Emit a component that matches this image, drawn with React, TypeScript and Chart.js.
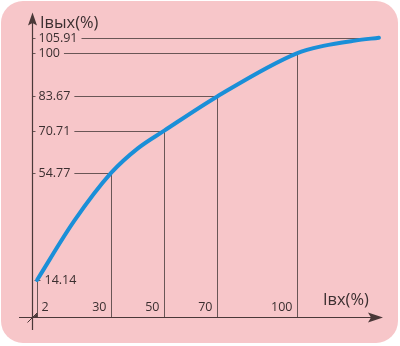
import { useEffect, useRef } from "react";
import { Chart, registerables } from "chart.js";

Chart.register(...registerables);

// Input current (%) and output current (%)
const inputValues = [2, 16, 30, 40, 50, 70, 100, 110, 122, 131];
const outputValues = [14.14, 36.5, 54.77, 64.0, 70.71, 83.67, 100, 102.8, 104.8, 105.91];

// Marked reference points
const xTickValues = [2, 30, 50, 70, 100];
const xTickLabels = ["2", "30", "50", "70", "100"];
const yTickValues = [14.14, 54.77, 70.71, 83.67, 100, 105.91];
const yTickLabels = ["14.14", "54.77", "70.71", "83.67", "100", "105.91"];
const yRefEndX = [2, 30, 50, 70, 100, 131];

const xAxisTitle = "Iвх(%)";
const yAxisTitle = "Iвых(%)";

const BG = "#f7c6c9";
const CURVE = "#1a8fd8";
const GRID = "#6a5656";
const AXIS = "#4a3838";
const TEXT = "#3b2f30";
const FONT = '"Open Sans", "DejaVu Sans", sans-serif';

function drawArrow(ctx: CanvasRenderingContext2D, tx: number, ty: number, dx: number, dy: number, len: number, hw: number, notch: number) {
  const px = -dy, py = dx;
  const bx = tx - dx * len, by = ty - dy * len;
  ctx.beginPath();
  ctx.moveTo(tx, ty);
  ctx.lineTo(bx + px * hw, by + py * hw);
  ctx.lineTo(tx - dx * (len - notch), ty - dy * (len - notch));
  ctx.lineTo(bx - px * hw, by - py * hw);
  ctx.closePath();
  ctx.fill();
}

const refPlugin = {
  id: "refs",
  beforeDraw(chart: any) {
    const ctx = chart.ctx as CanvasRenderingContext2D;
    ctx.save();
    ctx.fillStyle = BG;
    ctx.beginPath();
    (ctx as any).roundRect(1, 1, 397, 342, 22);
    ctx.fill();
    ctx.restore();
  },
  beforeDatasetsDraw(chart: any) {
    const ctx = chart.ctx as CanvasRenderingContext2D;
    const xs = chart.scales.x;
    const ys = chart.scales.y;
    const x0 = Math.round(xs.getPixelForValue(0)) + 0.5;
    const y0 = Math.round(ys.getPixelForValue(0)) + 0.5;
    const seg = (a: number, b: number, c: number, d: number) => {
      ctx.beginPath();
      ctx.moveTo(a, b);
      ctx.lineTo(c, d);
      ctx.stroke();
    };
    ctx.save();
    ctx.font = `12.5px ${FONT}`;
    ctx.fillStyle = TEXT;
    ctx.strokeStyle = GRID;
    ctx.lineWidth = 1;
    ctx.textBaseline = "middle";

    // horizontal reference lines + y labels
    yTickValues.forEach((v, i) => {
      const py = Math.round(ys.getPixelForValue(v)) + 0.5;
      const endX = Math.round(xs.getPixelForValue(yRefEndX[i])) + 0.5;
      const label = yTickLabels[i];
      ctx.textAlign = "left";
      if (i === 0) {
        ctx.fillText(label, endX + 7, py);
        seg(endX - 3, py, endX + 3, py);
      } else {
        const lx = x0 + 6;
        ctx.fillText(label, lx, py);
        const w = ctx.measureText(label).width;
        seg(lx + w + 4, py, endX, py);
        seg(x0, py, x0 + 3, py);
      }
    });

    // vertical drop lines + x labels
    xTickValues.forEach((v, i) => {
      const px = Math.round(xs.getPixelForValue(v)) + 0.5;
      const top = Math.round(ys.getPixelForValue(yTickValues[i])) + 0.5;
      seg(px, top, px, y0);
      if (i === 0) {
        ctx.textAlign = "left";
        ctx.fillText(xTickLabels[i], px + 4, y0 - 10);
      } else {
        ctx.textAlign = "right";
        ctx.fillText(xTickLabels[i], px - 5, y0 - 10);
      }
    });

    // axes
    ctx.strokeStyle = AXIS;
    ctx.fillStyle = AXIS;
    ctx.lineWidth = 1.2;
    seg(19, y0, 372, y0);
    seg(x0, 330, x0, 20);
    drawArrow(ctx, 383, y0, 1, 0, 15, 5, 3);
    drawArrow(ctx, x0, 12.5, 0, -1, 13, 4.5, 2.5);

    // origin marker
    ctx.lineWidth = 1;
    seg(27.5, y0 + 5, 37, y0 - 4.5);
    ctx.beginPath();
    ctx.moveTo(33, y0);
    ctx.lineTo(37.5, y0 - 4.5);
    ctx.lineTo(37.5, y0);
    ctx.closePath();
    ctx.fill();

    // axis titles
    ctx.fillStyle = TEXT;
    ctx.font = `16.4px ${FONT}`;
    ctx.textAlign = "left";
    ctx.fillText(yAxisTitle, 40, 23);
    ctx.fillText(xAxisTitle, 323, 300);
    ctx.restore();
  },
};

export default function App() {
  const ref = useRef<HTMLCanvasElement | null>(null);
  useEffect(() => {
    if (!ref.current) return;
    const kx = 2.65;
    const ky = 2.64;
    const xMax = 135;
    const yMax = 110;
    const left = 31.8;
    const yZero = 317.3;
    const chart = new Chart(ref.current, {
      type: "line",
      data: {
        datasets: [
          {
            data: inputValues.map((x, i) => ({ x, y: outputValues[i] })),
            borderColor: CURVE,
            borderWidth: 4,
            pointRadius: 0,
            cubicInterpolationMode: "monotone",
            borderCapStyle: "round",
            fill: false,
            clip: false as any,
          },
        ],
      },
      options: {
        animation: false,
        responsive: false,
        devicePixelRatio: 1,
        layout: {
          padding: {
            left,
            right: 400 - (left + xMax * kx),
            top: yZero - yMax * ky,
            bottom: 346 - yZero,
          },
        },
        plugins: { legend: { display: false }, tooltip: { enabled: false } },
        scales: {
          x: { type: "linear", min: 0, max: xMax, display: false },
          y: { type: "linear", min: 0, max: yMax, display: false },
        },
      },
      plugins: [refPlugin],
    });
    return () => chart.destroy();
  }, []);
  return (
    <div style={{ position: "absolute", left: 0, top: 0, width: 400, height: 346 }}>
      <canvas ref={ref} width={400} height={346} style={{ width: 400, height: 346, display: "block" }} />
    </div>
  );
}
